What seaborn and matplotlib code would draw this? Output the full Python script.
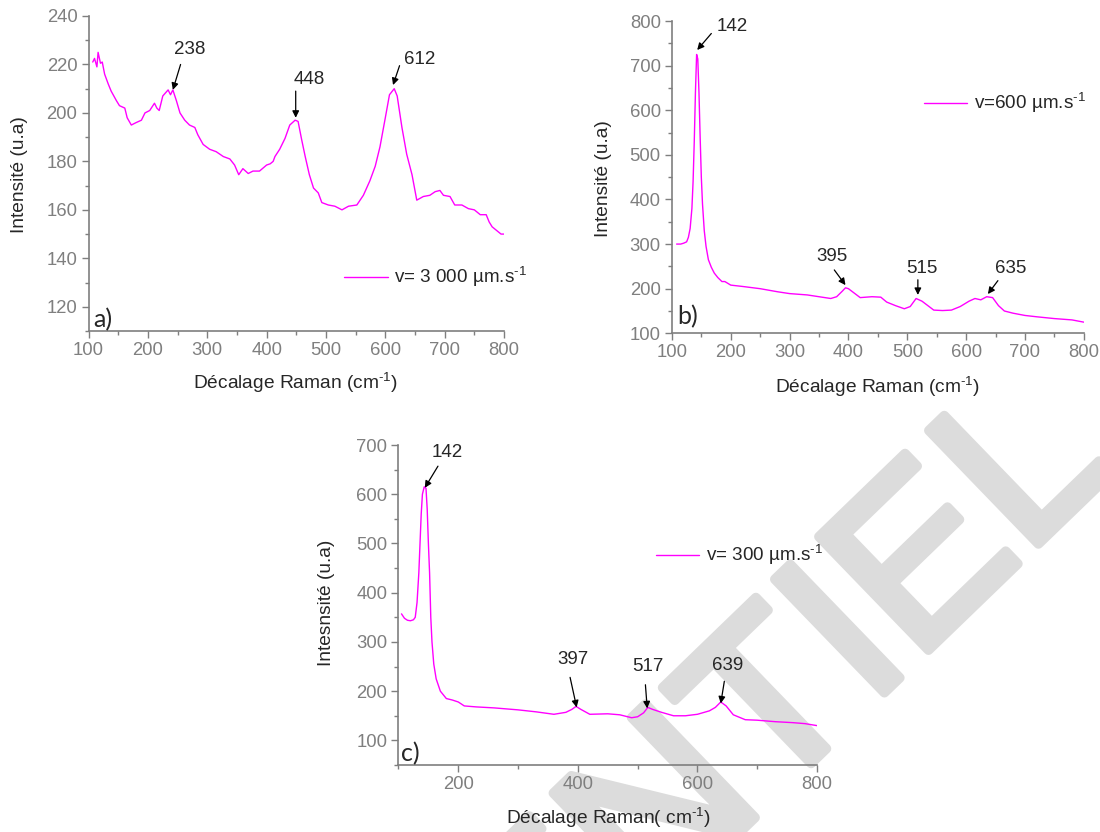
import matplotlib
matplotlib.use('Agg')
import matplotlib.pyplot as plt
import matplotlib.patheffects as pe
import pandas as pd
import seaborn as sns
from matplotlib.ticker import MultipleLocator

# spectre a) v = 3 000 um/s
xa = [107, 110, 114, 116, 120, 123, 127, 133, 138, 147, 152, 161, 165, 172, 180, 189, 195, 203, 211,
      215, 219, 225, 234, 238, 242, 248, 254, 262, 270, 279, 284, 293, 304, 315, 327, 338, 346, 353,
      360, 369, 377, 388, 400, 406, 411, 414, 422, 431, 439, 448, 453, 459, 465, 472, 479, 487, 493,
      504, 515, 527, 538, 552, 563, 574, 583, 591, 600, 607, 615, 620, 628, 636, 645, 653, 664, 675,
      684, 692, 698, 709, 717, 729, 740, 750, 760, 770, 775, 780, 785, 790, 795, 800]
ya = [221, 222.5, 219, 225, 220.5, 221, 216, 212, 209, 205, 203, 202, 198, 195, 196, 197, 200, 201,
      204, 202, 201, 207, 209.5, 207.5, 209.5, 205, 200, 197, 195, 194, 191, 187, 185, 184, 182, 181,
      178.5, 174.5, 177, 175, 176, 176, 178.5, 179, 180, 182, 185, 189.5, 195, 197, 196.5, 189, 182,
      174.5, 169, 167, 163, 162, 161.5, 160, 161.5, 162, 166, 172, 178, 186, 198, 207.5, 210, 207,
      194, 183, 174.5, 164, 165.5, 166, 167.5, 168, 166, 165.5, 162, 162, 160.5, 160, 158, 158, 155,
      153, 152, 151, 150, 150]

# spectre b) v = 600 um/s
xb = [108, 115, 120, 125, 128, 131, 134, 136, 138, 140, 142, 144, 146, 148, 150, 152, 155, 158, 162,
      167, 172, 178, 185, 190, 195, 200, 220, 250, 280, 300, 330, 350, 370, 380, 390, 395, 400, 410,
      420, 440, 455, 465, 480, 495, 505, 515, 525, 535, 545, 560, 575, 590, 605, 615, 625, 635, 645,
      655, 665, 680, 700, 720, 750, 780, 800]
yb = [300, 300, 302, 305, 315, 335, 380, 440, 530, 640, 725, 715, 640, 540, 450, 390, 330, 295, 265,
      248, 235, 225, 216, 216, 212, 208, 205, 200, 193, 189, 186, 182, 178, 182, 195, 202, 200, 190,
      180, 182, 181, 170, 162, 155, 160, 178, 172, 162, 152, 151, 152, 160, 172, 178, 175, 182, 180,
      162, 150, 145, 140, 137, 133, 130, 125]

# spectre c) v = 300 um/s
xc = [105, 110, 115, 120, 125, 128, 131, 134, 136, 138, 140, 143, 146, 148, 150, 152, 154, 156, 159,
      163, 170, 180, 190, 200, 210, 230, 260, 300, 330, 360, 380, 390, 397, 405, 420, 450, 470, 490,
      500, 510, 517, 525, 540, 560, 580, 600, 620, 630, 639, 648, 660, 680, 700, 730, 760, 780, 800]
yc = [357, 348, 344, 343, 345, 350, 380, 440, 500, 560, 600, 615, 612, 570, 500, 440, 350, 300, 255,
      225, 200, 185, 182, 178, 170, 168, 166, 162, 158, 153, 157, 163, 169, 163, 153, 154, 152, 146,
      148, 156, 167, 163, 157, 150, 150, 153, 160, 167, 178, 170, 152, 142, 141, 138, 136, 134, 130]

# pics annotes : (label, tete fleche x, y, queue x, y, texte x, y)
peaks_a = [("238", 242, 209.5, 255, 220, 270, 226), ("448", 449, 198, 449, 209, 472, 214),
           ("612", 613, 211.5, 624, 219.5, 658, 222)]
peaks_b = [("142", 143, 735, 167, 772, 202, 787), ("395", 395, 208, 376, 242, 372, 272),
           ("515", 518, 186, 518, 220, 524, 246), ("635", 637, 188, 654, 218, 675, 246)]
peaks_c = [("142", 144, 613, 166, 657, 182, 684), ("397", 398, 167, 387, 228, 391, 265),
           ("517", 516, 165, 513, 213, 517, 250), ("639", 639, 175, 645, 220, 650, 252)]

sns.set_style('ticks')
plt.rcParams['font.family'] = ['Liberation Sans', 'DejaVu Sans']
plt.rcParams['mathtext.fontset'] = 'custom'
plt.rcParams['mathtext.rm'] = 'Liberation Sans'
plt.rcParams['mathtext.it'] = 'Liberation Sans'

grey = '#7f7f7f'
mag = '#ff00ff'
wm = '#dcdcdc'

fig = plt.figure(figsize=(11, 8.32), dpi=100)

# filigrane
fig.text(1116 / 1100, 1 - 469 / 832, 'CONFIDENTIEL', rotation=44, rotation_mode='anchor',
         ha='right', va='baseline', fontsize=165, color=wm,
         family=['Liberation Sans Narrow', 'Liberation Sans'], zorder=-5,
         path_effects=[pe.Stroke(linewidth=7, foreground=wm, joinstyle='round', capstyle='round'),
                       pe.Normal()])

ax_a = fig.add_axes([88.6 / 1100, 1 - 331 / 832, 415.4 / 1100, 315 / 832])
ax_b = fig.add_axes([671.9 / 1100, 1 - 333.3 / 832, 411.9 / 1100, 312.3 / 832])
ax_c = fig.add_axes([398.5 / 1100, 1 - 765 / 832, 418.5 / 1100, 320 / 832])


def draw(ax, x, y, label, peaks, letter, letter_pos, leg_pos, ylim, xmaj, xmin, ymaj, ymin,
         xlabel, ylabel, xl_pos, yl_pos):
    df = pd.DataFrame({'x': x, 'y': y})
    sns.lineplot(data=df, x='x', y='y', ax=ax, color=mag, lw=1, label=label)
    ax.set_facecolor('none')
    ax.set_xlim(100, 800)
    ax.set_ylim(*ylim)
    ax.xaxis.set_major_locator(MultipleLocator(xmaj))
    ax.xaxis.set_minor_locator(MultipleLocator(xmin))
    ax.yaxis.set_major_locator(MultipleLocator(ymaj))
    ax.yaxis.set_minor_locator(MultipleLocator(ymin))
    for s in ['top', 'right']:
        ax.spines[s].set_visible(False)
    for s in ['left', 'bottom']:
        ax.spines[s].set_color(grey)
        ax.spines[s].set_linewidth(1.2)
    ax.tick_params(which='major', length=5, width=1, color=grey, labelcolor=grey, labelsize=13.3, pad=3)
    ax.tick_params(which='minor', length=3, width=1, color=grey)
    ax.set_xlabel(xlabel, fontsize=13.8)
    ax.set_ylabel(ylabel, fontsize=13.8)
    ax.xaxis.label.set_va('center')
    ax.yaxis.label.set_va('center')
    ax.xaxis.set_label_coords(*xl_pos)
    ax.yaxis.set_label_coords(*yl_pos)
    for lab, hx, hy, tx, ty, lx, ly in peaks:
        ax.annotate('', xy=(hx, hy), xytext=(tx, ty),
                    arrowprops=dict(arrowstyle='-|>', color='k', lw=0.9, mutation_scale=10,
                                    shrinkA=0, shrinkB=0))
        ax.text(lx, ly, lab, ha='center', va='center', fontsize=13.5)
    ax.text(letter_pos[0], letter_pos[1], letter, transform=ax.transAxes, fontsize=18,
            family='Lato', ha='left', va='bottom')
    ax.legend(loc='center left', bbox_to_anchor=leg_pos, frameon=False, fontsize=13.6,
              handlelength=2.3, handletextpad=0.35, borderpad=0, borderaxespad=0)


sup = r'$^{\text{-1}}$'
draw(ax_a, xa, ya, 'v= 3 000 µm.s' + sup, peaks_a, 'a)', (0.012, 0.0), (0.615, 0.171),
     (110, 240), 100, 50, 20, 10, 'Décalage Raman (cm' + sup + ')', 'Intensité (u.a)',
     (0.499, -0.165), (-0.166, 0.498))
draw(ax_b, xb, yb, 'v=600 µm.s' + sup, peaks_b, 'b)', (0.013, 0.017), (0.612, 0.737),
     (100, 800), 100, 50, 100, 50, 'Décalage Raman (cm' + sup + ')', 'Intensité (u.a)',
     (0.5, -0.172), (-0.167, 0.497))
draw(ax_c, xc, yc, 'v= 300 µm.s' + sup, peaks_c, 'c)', (0.005, 0.0), (0.615, 0.656),
     (50, 700), 200, 100, 100, 50, 'Décalage Raman( cm' + sup + ')', 'Intesnsité (u.a)',
     (0.501, -0.166), (-0.171, 0.506))

plt.savefig('out.png', dpi=100)
plt.close()
